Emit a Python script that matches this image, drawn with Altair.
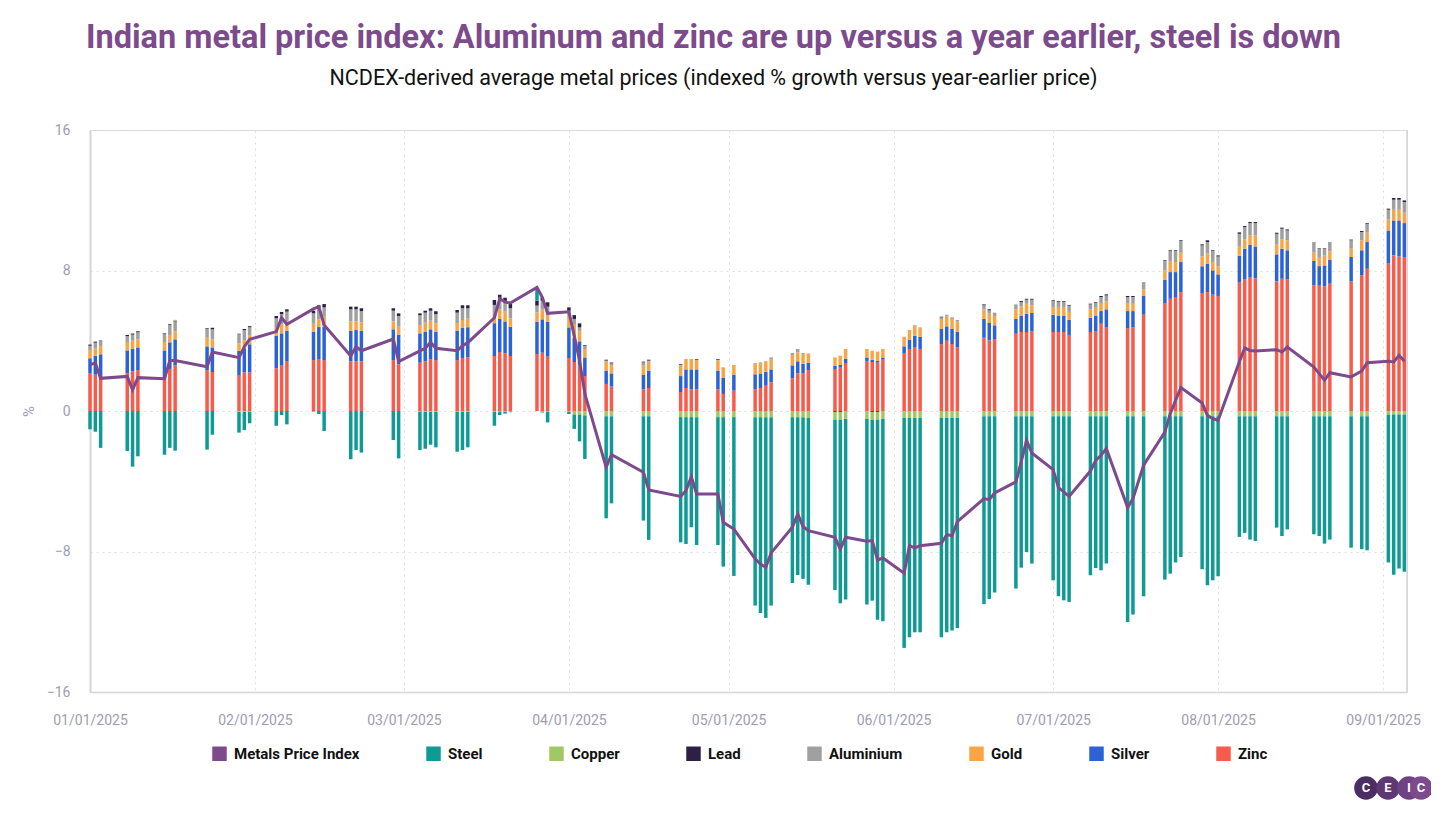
import altair as alt
import pandas as pd

dates = [
"2025-01-01","2025-01-02","2025-01-03",
"2025-01-08","2025-01-09","2025-01-10",
"2025-01-15","2025-01-16","2025-01-17",
"2025-01-23","2025-01-24",
"2025-01-29","2025-01-30","2025-01-31",
"2025-02-05","2025-02-06","2025-02-07",
"2025-02-12","2025-02-13","2025-02-14",
"2025-02-19","2025-02-20","2025-02-21",
"2025-02-27","2025-02-28",
"2025-03-04","2025-03-05","2025-03-06","2025-03-07",
"2025-03-11","2025-03-12","2025-03-13",
"2025-03-18","2025-03-19","2025-03-20","2025-03-21",
"2025-03-26","2025-03-27","2025-03-28",
"2025-04-01","2025-04-02","2025-04-03","2025-04-04",
"2025-04-08","2025-04-09",
"2025-04-15","2025-04-16",
"2025-04-22","2025-04-23","2025-04-24","2025-04-25",
"2025-04-29","2025-04-30",
"2025-05-02",
"2025-05-06","2025-05-07","2025-05-08","2025-05-09",
"2025-05-13","2025-05-14","2025-05-15","2025-05-16",
"2025-05-21","2025-05-22","2025-05-23",
"2025-05-27","2025-05-28","2025-05-29","2025-05-30",
"2025-06-03","2025-06-04","2025-06-05","2025-06-06",
"2025-06-10","2025-06-11","2025-06-12","2025-06-13",
"2025-06-18","2025-06-19","2025-06-20",
"2025-06-24","2025-06-25","2025-06-26","2025-06-27",
"2025-07-01","2025-07-02","2025-07-03","2025-07-04",
"2025-07-08","2025-07-09","2025-07-10","2025-07-11",
"2025-07-15","2025-07-16","2025-07-18",
"2025-07-22","2025-07-23","2025-07-24","2025-07-25",
"2025-07-29","2025-07-30","2025-07-31","2025-08-01",
"2025-08-05","2025-08-06","2025-08-07","2025-08-08",
"2025-08-12","2025-08-13","2025-08-14",
"2025-08-19","2025-08-20","2025-08-21","2025-08-22",
"2025-08-26","2025-08-28","2025-08-29",
"2025-09-02","2025-09-03","2025-09-04","2025-09-05",
]

zinc = [
2.14,2.07,1.82, 2.16,2.26,2.33, 1.80,2.39,2.60, 2.33,2.22, 2.05,2.20,2.20,
2.43,2.62,2.81, 2.90,2.96,2.90, 2.83,2.83,2.83, 2.90,2.66,
2.75,2.83,2.94,2.90, 2.90,3.02,3.06, 3.13,3.36,3.28,3.13, 3.24,3.32,3.09,
3.02,2.79,2.60,1.99, 1.54,1.39, 1.23,1.31, 1.08,1.31,1.23,1.23, 1.23,0.97,
1.16, 1.23,1.31,1.44,1.63, 1.86,2.14,2.16,2.33, 2.39,2.47,2.69, 2.85,2.79,2.75,2.92,
3.30,3.53,3.61,3.53, 3.81,4.00,3.81,3.61, 4.17,4.02,4.10, 4.40,4.50,4.50,4.55,
4.50,4.50,4.50,4.33, 4.50,4.55,4.97,4.78, 4.72,4.78,5.48, 6.15,6.39,6.45,6.77,
6.72,6.77,6.62,6.55, 7.31,7.48,7.63,7.55, 7.38,7.53,7.48, 7.15,7.13,7.10,7.25,
7.38,7.72,8.10, 8.39,8.86,8.80,8.77]

silver = [
0.86,1.08,1.41, 1.29,1.27,1.29, 1.65,1.52,1.48, 1.35,1.40, 1.38,1.37,1.60,
1.84,1.80,1.76, 1.62,1.82,1.90, 1.74,1.78,1.74, 1.75,1.69,
1.67,1.69,1.71,1.60, 1.67,1.71,1.71, 1.87,1.88,1.82,1.67, 1.83,1.90,1.98,
1.74,1.37,1.37,1.06, 0.76,0.75, 0.82,0.99, 0.91,1.06,1.14,1.14, 1.07,0.91,
0.91, 0.86,0.83,0.80,0.74, 0.74,0.69,0.53,0.42, 0.19,0.15,0.29, 0.20,0.13,0.10,0.13,
0.38,0.53,0.68,0.70, 0.86,0.82,0.88,0.91, 1.07,0.99,0.78, 0.84,0.91,1.04,1.03,
0.98,0.91,0.91,0.87, 0.81,0.86,0.72,1.01, 0.97,0.91,1.07, 1.33,1.52,1.46,1.71,
1.52,1.62,1.39,1.23, 1.53,1.76,1.84,1.82, 1.54,1.71,1.67, 1.39,1.12,1.19,1.36,
1.39,1.43,1.52, 1.89,1.99,2.05,1.93]

gold = [
0.47,0.40,0.47, 0.48,0.47,0.46, 0.48,0.42,0.46, 0.49,0.46, 0.42,0.47,0.53,
0.47,0.52,0.52, 0.45,0.44,0.57, 0.53,0.49,0.48, 0.45,0.45,
0.48,0.51,0.49,0.50, 0.43,0.45,0.49, 0.31,0.55,0.56,0.48, 0.55,0.55,0.39,
0.67,0.79,0.57,0.48, 0.51,0.48, 0.53,0.51, 0.59,0.59,0.59,0.55, 0.57,0.61,
0.55, 0.59,0.59,0.59,0.55, 0.59,0.51,0.55,0.53, 0.47,0.53,0.55, 0.48,0.51,0.53,0.48,
0.55,0.55,0.57,0.49, 0.57,0.57,0.55,0.57, 0.55,0.53,0.53, 0.55,0.55,0.57,0.44,
0.44,0.51,0.51,0.44, 0.48,0.47,0.46,0.45, 0.46,0.46,0.38, 0.53,0.63,0.57,0.53,
0.56,0.57,0.47,0.46, 0.55,0.53,0.53,0.63, 0.55,0.53,0.57, 0.47,0.52,0.57,0.48,
0.47,0.57,0.53, 0.63,0.61,0.61,0.59]

aluminium = [
0.25,0.34,0.28, 0.34,0.35,0.40, 0.45,0.57,0.56, 0.50,0.57, 0.52,0.57,0.44,
0.54,0.57,0.57, 0.59,0.68,0.53, 0.69,0.69,0.64, 0.61,0.61,
0.55,0.57,0.57,0.52, 0.60,0.67,0.59, 0.73,0.63,0.53,0.57, 0.38,0.51,0.48,
0.28,0.29,0.22,0.19, 0.06,0.09, 0.19,0.06, 0.06,0.00,0.00,0.00, 0.05,0.00,
0.00, 0.04,0.04,0.02,0.13, 0.11,0.19,0.06,0.00, 0.00,0.00,0.00, 0.00,0.00,0.00,0.00,
0.00,0.00,0.04,0.04, 0.09,0.09,0.09,0.09, 0.23,0.19,0.19, 0.28,0.24,0.23,0.32,
0.34,0.30,0.30,0.36, 0.28,0.27,0.34,0.34, 0.34,0.34,0.41, 0.53,0.57,0.63,0.67,
0.63,0.66,0.63,0.56, 0.70,0.70,0.70,0.70, 0.62,0.61,0.56, 0.55,0.47,0.38,0.47,
0.48,0.47,0.51, 0.55,0.57,0.57,0.61]

lead = [
0.06,0.06,0.03, 0.06,0.06,0.06, 0.04,0.04,0.04, 0.04,0.09, 0.03,0.06,0.06,
0.13,0.13,0.13, 0.15,0.12,0.19, 0.15,0.15,0.16, 0.14,0.15,
0.11,0.11,0.14,0.16, 0.15,0.17,0.17, 0.28,0.20,0.26,0.24, 0.28,0.19,0.25,
0.19,0.22,0.23,0.04, 0.05,0.05, 0.04,0.05, 0.04,0.00,0.00,0.04, 0.04,0.00,
0.00, 0.00,0.00,0.00,0.00, 0.00,0.00,0.00,0.00, -0.05,-0.05,0.00, 0.00,-0.05,-0.05,0.00,
0.00,0.00,0.00,0.00, 0.04,0.00,0.00,0.00, 0.05,0.06,0.00, 0.00,0.06,0.05,0.05,
0.04,0.04,0.04,0.04, 0.04,0.04,0.06,0.06, 0.06,0.06,0.00, 0.04,0.04,0.04,0.04,
0.06,0.10,0.04,0.06, 0.08,0.06,0.06,0.06, 0.06,0.06,0.06, 0.03,0.03,0.03,0.03,
0.04,0.06,0.04, 0.06,0.10,0.10,0.09]

copper = [
0.00,0.00,0.00, 0.00,0.00,0.00, 0.00,0.00,0.05, 0.00,0.00, -0.05,-0.05,-0.05,
0.00,0.00,0.00, 0.00,0.00,0.00, 0.00,0.00,0.00, 0.00,0.00,
-0.05,-0.05,-0.05,-0.05, -0.05,-0.05,-0.05, -0.05,-0.05,-0.05,-0.05, 0.00,-0.08,-0.05,
-0.05,-0.20,-0.20,-0.25, -0.30,-0.30, -0.30,-0.30, -0.35,-0.35,-0.35,-0.35, -0.35,-0.35,
-0.35, -0.36,-0.36,-0.36,-0.36, -0.36,-0.36,-0.36,-0.40, -0.45,-0.45,-0.45, -0.45,-0.45,-0.45,-0.45,
-0.40,-0.40,-0.40,-0.40, -0.40,-0.40,-0.40,-0.40, -0.30,-0.30,-0.30, -0.30,-0.30,-0.30,-0.30,
-0.30,-0.30,-0.30,-0.30, -0.30,-0.30,-0.30,-0.30, -0.30,-0.30,-0.30, -0.30,-0.30,-0.30,-0.30,
-0.30,-0.30,-0.30,-0.30, -0.30,-0.30,-0.30,-0.30, -0.30,-0.30,-0.30, -0.30,-0.30,-0.30,-0.30,
-0.30,-0.30,-0.30, -0.20,-0.20,-0.20,-0.20]

steel = [
-1.04,-1.18,-2.10, -2.28,-3.17,-2.58, -2.49,-2.10,-2.26, -2.20,-1.35, -1.18,-1.03,-0.65,
-0.84,-0.23,-0.76, -0.03,-0.17,-1.14, -2.75,-2.22,-2.37, -1.65,-2.70,
-2.17,-2.10,-1.87,-2.02, -2.27,-2.17,-2.02, -0.79,-0.18,-0.10,-0.02, 0.72,-0.02,-0.60,
-0.12,-0.82,-1.53,-2.48, -5.81,-4.96, -5.94,-7.04, -7.13,-7.22,-6.27,-7.28, -7.28,-8.51,
-9.04, -10.72,-11.14,-11.42,-10.72, -9.43,-8.98,-9.20,-9.49, -9.69,-10.45,-10.29, -10.57,-10.30,-11.38,-11.52,
-13.09,-12.48,-12.20,-12.20, -12.48,-12.20,-12.10,-11.95, -10.70,-10.40,-10.04, -9.81,-8.62,-7.73,-8.39,
-9.34,-10.25,-10.48,-10.57, -9.05,-8.64,-8.77,-8.39, -11.71,-11.29,-10.25, -9.30,-8.96,-8.33,-8.01,
-8.71,-9.62,-9.34,-9.11, -6.87,-6.64,-7.02,-7.10, -6.34,-6.82,-6.44, -6.72,-6.82,-7.25,-7.02,
-7.48,-7.57,-7.63, -8.43,-9.12,-8.77,-8.96]

index = [
2.64,2.73,1.86, 1.97,1.20,1.90, 1.84,2.87,2.87, 2.52,3.36, 3.04,3.66,4.08,
4.52,5.31,4.94, 5.81,5.94,4.90, 3.13,3.66,3.43, 4.10,2.81,
3.42,3.57,3.91,3.57, 3.43,3.72,3.89, 5.31,6.40,6.20,6.15, 7.04,6.47,5.56,
5.65,4.29,2.87,0.97, -3.21,-2.49, -3.49,-4.50, -4.86,-4.54,-3.74,-4.72, -4.72,-6.34,
-6.72, -8.42,-8.71,-8.90,-8.08, -6.62,-5.86,-6.58,-6.81, -7.19,-7.86,-7.19, -7.42,-7.38,-8.48,-8.37,
-9.24,-7.67,-7.80,-7.67, -7.53,-7.04,-7.10,-6.30, -4.99,-5.05,-4.67, -4.04,-2.90,-1.67,-2.39,
-3.34,-4.36,-4.61,-4.86, -3.42,-2.81,-2.52,-2.14, -5.50,-4.99,-3.09, -1.20,-0.15,0.60,1.33,
0.46,-0.25,-0.44,-0.53, 2.80,3.59,3.45,3.42, 3.49,3.36,3.64, 2.50,2.13,1.75,2.18,
1.94,2.28,2.75, 2.83,2.79,3.17,2.83]

legend_names = ["Metals Price Index", "Steel", "Copper", "Lead", "Aluminium", "Gold", "Silver", "Zinc"]
legend_colors = ["#7d4a8c", "#0f9b94", "#a2c865", "#2e1f47", "#a0a0a0", "#f9a545", "#2c62d3", "#f65b4c"]
stack_order = {"Zinc": 0, "Silver": 1, "Gold": 2, "Aluminium": 3, "Lead": 4, "Copper": 5, "Steel": 6}

series = {"Zinc": zinc, "Silver": silver, "Gold": gold, "Aluminium": aluminium,
          "Lead": lead, "Copper": copper, "Steel": steel}

rows = []
for name, vals in series.items():
    for d, v in zip(dates, vals):
        rows.append({"date": d + "T00:00:00", "metal": name, "value": v, "ord": stack_order[name]})
bars_df = pd.DataFrame(rows)
line_df = pd.DataFrame({"date": [d + "T00:00:00" for d in dates], "value": index})

W, H = 1317, 562
FONT = "Roboto"
GRAY = "#9d9db2"

xscale = alt.Scale(domain=[alt.DateTime(year=2025, month=1, date=1, hours=0),
                           alt.DateTime(year=2025, month=9, date=5, hours=12)], padding=0)
yscale = alt.Scale(domain=[-16, 16], nice=False, padding=0)

xaxis = alt.Axis(format="%m/%d/%Y", tickCount=alt.TimeIntervalStep(interval="month", step=1),
                 title=None, labelColor=GRAY, labelFontSize=14, labelFont=FONT, labelFlush=False,
                 grid=True, gridDash=[2, 4], gridColor="#dcdcdc",
                 domainColor="#d4d4da", domainWidth=1.5, ticks=False, labelPadding=21)
yaxis = alt.Axis(values=[-16, -8, 0, 8, 16], title="%", titleColor=GRAY, titleFontWeight="normal",
                 titleFontSize=15, titleFont=FONT, titlePadding=10,
                 labelColor=GRAY, labelFontSize=14, labelFont=FONT, labelPadding=20,
                 grid=True, gridDash=[2, 4], gridColor="#dcdcdc",
                 domainColor="#d4d4da", domainWidth=2, ticks=False)

bars = alt.Chart(bars_df).mark_bar(width=3.5).encode(
    x=alt.X("date:T", scale=xscale, axis=xaxis),
    y=alt.Y("value:Q", stack="zero", scale=yscale, axis=yaxis),
    color=alt.Color("metal:N", scale=alt.Scale(domain=legend_names, range=legend_colors),
                    legend=alt.Legend(orient="none", legendX=122, legendY=616, direction="horizontal",
                                      title=None, symbolType="square", symbolSize=210,
                                      symbolStrokeWidth=0, labelFont=FONT, labelFontSize=15,
                                      labelFontWeight="bold", labelColor="#111111",
                                      columnPadding=66, symbolOffset=0, labelOffset=7)),
    order=alt.Order("ord:Q", sort="ascending"),
)

line = alt.Chart(line_df).mark_line(color="#7d4a8c", strokeWidth=3).encode(
    x=alt.X("date:T", scale=xscale),
    y=alt.Y("value:Q", scale=yscale),
)

right_border = alt.Chart(alt.Data(values=[{}])).mark_rule(color="#d4d4da", strokeWidth=1.5).encode(
    x=alt.value(W), y=alt.value(0), y2=alt.value(H))

logo_layers = []
logo_spec = [("C", 1276, "#4b2d63"), ("E", 1298, "#5e3872"), ("I", 1319, "#6e4283"), ("C", 1331, "#7d4a8c")]
for letter, lx, col in logo_spec:
    logo_layers.append(alt.Chart(alt.Data(values=[{}])).mark_circle(size=560, color=col, opacity=1).encode(
        x=alt.value(lx), y=alt.value(658)))
for letter, lx, col in logo_spec:
    logo_layers.append(alt.Chart(alt.Data(values=[{}])).mark_text(
        text=letter, color="white", fontSize=13, font=FONT, fontWeight="bold").encode(
        x=alt.value(lx), y=alt.value(658)))

chart = alt.layer(bars, line, right_border, *logo_layers).properties(
    width=W, height=H,
    title=alt.TitleParams(
        text="Indian metal price index: Aluminum and zinc are up versus a year earlier, steel is down",
        subtitle="NCDEX-derived average metal prices (indexed % growth versus year-earlier price)",
        font=FONT, fontSize=32.5, fontWeight="bold", color="#7d4a8c",
        subtitleFont=FONT, subtitleFontSize=21.5, subtitleColor="#111111", subtitlePadding=13,
        anchor="middle", dx=-35, offset=34),
    autosize=alt.AutoSizeParams(type="none"),
    padding={"left": 82, "top": 122, "right": 24, "bottom": 114},
).configure_view(stroke=None).configure(background="white")

chart.save("out.html", embed_options={"renderer": "svg", "actions": False})
